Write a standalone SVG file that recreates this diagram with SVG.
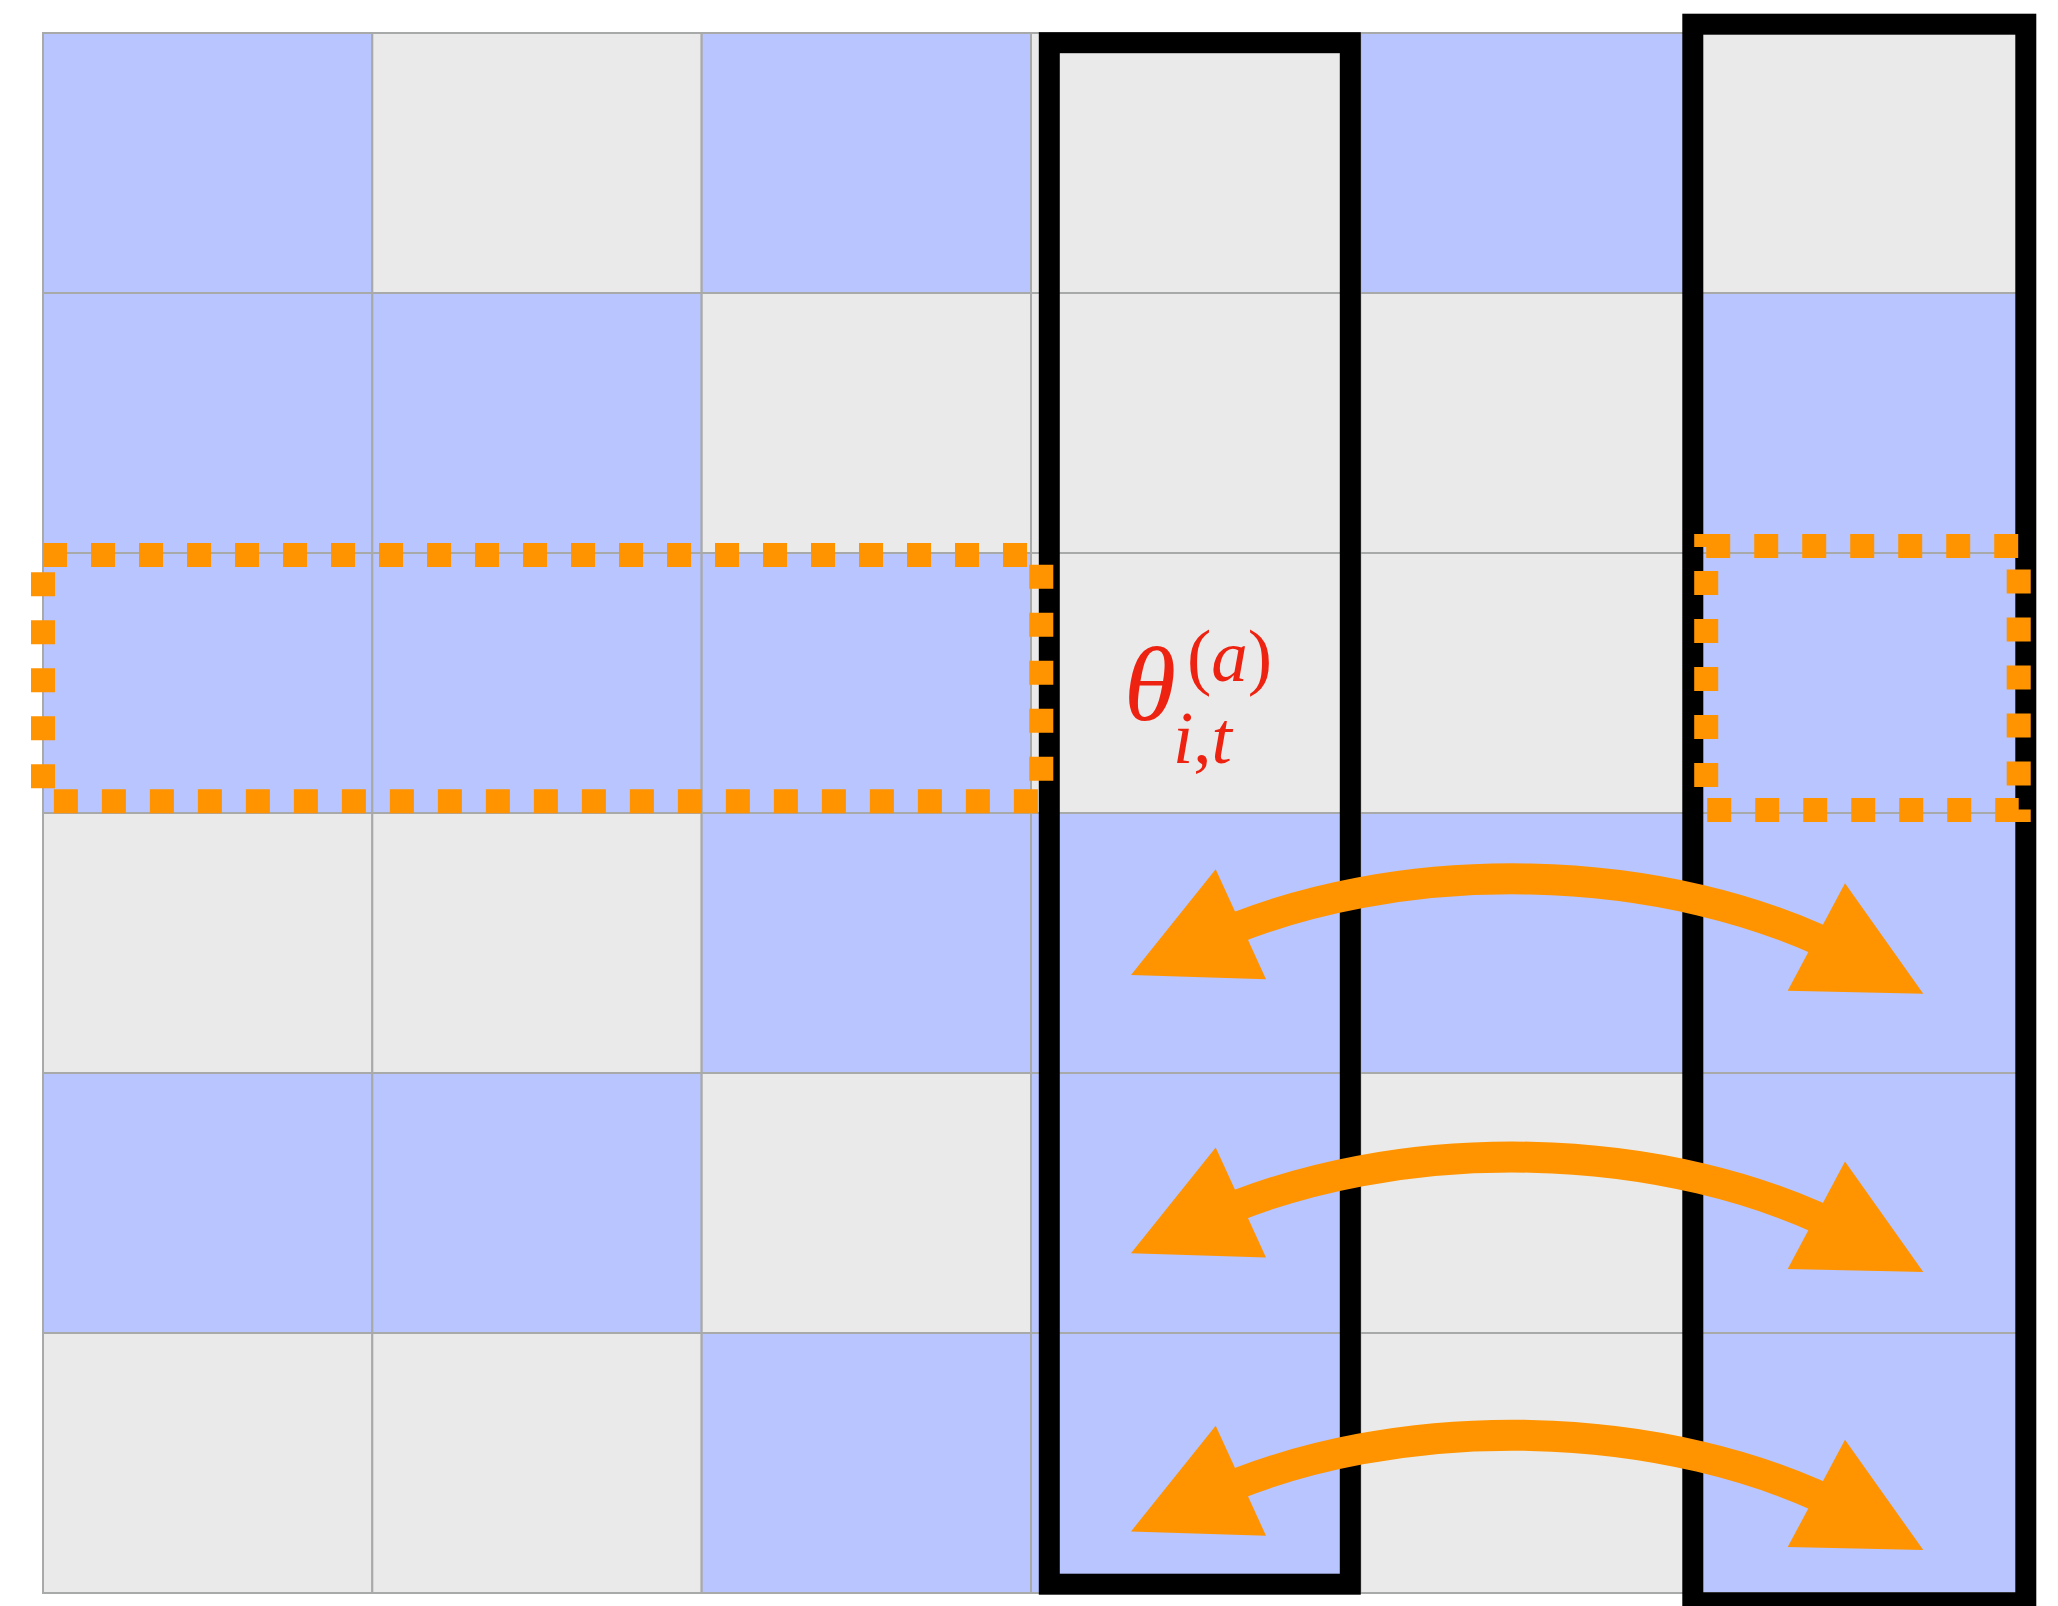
<svg xmlns="http://www.w3.org/2000/svg" width="2058" height="1606" viewBox="0 0 2058 1606">
  <style>
    .b { fill: #B8C5FE; stroke: #A8A9A9; stroke-width: 2; }
    .g { fill: #EAEAEA; stroke: #A8A9A9; stroke-width: 2; }
    .frame { fill: none; stroke: #000000; stroke-width: 21; }
    .dots { fill: none; stroke: #FF9400; stroke-width: 24; stroke-dasharray: 24 24; }
    .shaft { fill: none; stroke: #FF9400; stroke-width: 31; }
    .head { fill: #FF9400; }
    .math { font-family: "Liberation Serif", "Times New Roman", serif; fill: #EE2211; }
  </style>
  <defs>
    <!-- double-headed curved swap arrow -->
    <g id="swap">
      <path class="shaft" d="M 1205 941 C 1394.5 853.6 1667.5 858.1 1852 956"/>
      <polygon class="head" points="1131,975 1215.7,869.3 1266,979.3"/>
      <polygon class="head" points="1923.3,993.7 1845,883.3 1787.7,990.7"/>
    </g>
  </defs>
  <rect width="2058" height="1606" fill="#FFFFFF"/>

  <!-- 6 x 6 grid of cells -->
  <g id="grid">
    <!-- row 0 -->
    <rect class="b" x="43" y="33" width="329.3" height="260"/>
    <rect class="g" x="372.3" y="33" width="329.3" height="260"/>
    <rect class="b" x="701.7" y="33" width="329.3" height="260"/>
    <rect class="g" x="1031" y="33" width="329.3" height="260"/>
    <rect class="b" x="1360.3" y="33" width="329.3" height="260"/>
    <rect class="g" x="1689.7" y="33" width="329.3" height="260"/>
    <!-- row 1 -->
    <rect class="b" x="43" y="293" width="329.3" height="260"/>
    <rect class="b" x="372.3" y="293" width="329.3" height="260"/>
    <rect class="g" x="701.7" y="293" width="329.3" height="260"/>
    <rect class="g" x="1031" y="293" width="329.3" height="260"/>
    <rect class="g" x="1360.3" y="293" width="329.3" height="260"/>
    <rect class="b" x="1689.7" y="293" width="329.3" height="260"/>
    <!-- row 2 -->
    <rect class="b" x="43" y="553" width="329.3" height="260"/>
    <rect class="b" x="372.3" y="553" width="329.3" height="260"/>
    <rect class="b" x="701.7" y="553" width="329.3" height="260"/>
    <rect class="g" x="1031" y="553" width="329.3" height="260"/>
    <rect class="g" x="1360.3" y="553" width="329.3" height="260"/>
    <rect class="b" x="1689.7" y="553" width="329.3" height="260"/>
    <!-- row 3 -->
    <rect class="g" x="43" y="813" width="329.3" height="260"/>
    <rect class="g" x="372.3" y="813" width="329.3" height="260"/>
    <rect class="b" x="701.7" y="813" width="329.3" height="260"/>
    <rect class="b" x="1031" y="813" width="329.3" height="260"/>
    <rect class="b" x="1360.3" y="813" width="329.3" height="260"/>
    <rect class="b" x="1689.7" y="813" width="329.3" height="260"/>
    <!-- row 4 -->
    <rect class="b" x="43" y="1073" width="329.3" height="260"/>
    <rect class="b" x="372.3" y="1073" width="329.3" height="260"/>
    <rect class="g" x="701.7" y="1073" width="329.3" height="260"/>
    <rect class="b" x="1031" y="1073" width="329.3" height="260"/>
    <rect class="g" x="1360.3" y="1073" width="329.3" height="260"/>
    <rect class="b" x="1689.7" y="1073" width="329.3" height="260"/>
    <!-- row 5 -->
    <rect class="g" x="43" y="1333" width="329.3" height="260"/>
    <rect class="g" x="372.3" y="1333" width="329.3" height="260"/>
    <rect class="b" x="701.7" y="1333" width="329.3" height="260"/>
    <rect class="b" x="1031" y="1333" width="329.3" height="260"/>
    <rect class="g" x="1360.3" y="1333" width="329.3" height="260"/>
    <rect class="b" x="1689.7" y="1333" width="329.3" height="260"/>
  </g>

  <!-- highlighted columns -->
  <g id="column-left">
    <rect class="frame" x="1049.3" y="42.7" width="301" height="1541.5"/>
  </g>
  <g id="column-right">
    <rect class="frame" x="1692.8" y="24.2" width="333" height="1578.6"/>
  </g>

  <!-- dotted row selections -->
  <g id="row-block">
    <rect class="dots" x="43" y="555" width="998.3" height="246.3"/>
  </g>
  <g id="row-cell">
    <rect class="dots" x="1706.2" y="546" width="312.5" height="264"/>
  </g>

  <!-- parameter label -->
  <g id="label">
    <text class="math" x="1124" y="720" font-size="106" font-style="italic">θ</text>
    <text class="math" x="1187" y="681" font-size="73"><tspan>(</tspan><tspan font-style="italic">a</tspan><tspan>)</tspan></text>
    <text class="math" x="1173" y="763" font-size="73"><tspan font-style="italic">i</tspan><tspan>,</tspan><tspan font-style="italic">t</tspan></text>
  </g>

  <!-- swap arrows between the two columns -->
  <g id="connectors">
    <use href="#swap"/>
    <use href="#swap" transform="translate(0,278.2)"/>
    <use href="#swap" transform="translate(0,556.4)"/>
  </g>
</svg>
